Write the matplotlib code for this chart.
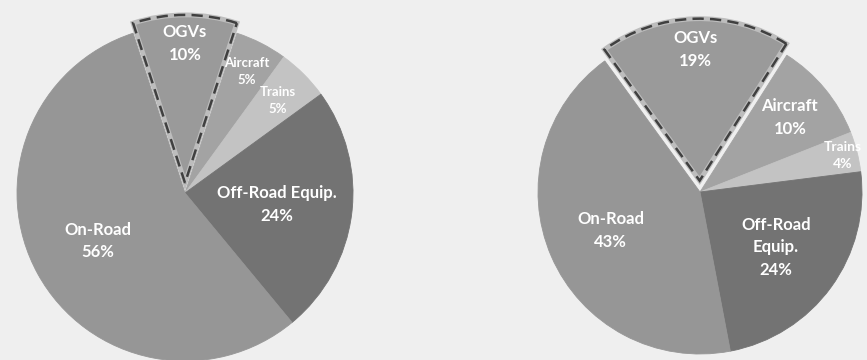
import matplotlib.pyplot as plt
import matplotlib.patches as mpatches
import numpy as np

# emission shares (%), clockwise starting with OGVs
categories = ['OGVs', 'Aircraft', 'Trains', 'Off-Road Equip.', 'On-Road']
left_values = [10, 5, 5, 24, 56]
right_values = [19, 10, 4, 24, 43]
right_labels = ['OGVs', 'Aircraft', 'Trains', 'Off-Road\nEquip.', 'On-Road']

colors = ['#9a9a9a', '#a3a3a3', '#c3c3c3', '#737373', '#969696']
bg = '#efefef'

W, H = 867, 360
fig = plt.figure(figsize=(W / 100, H / 100), dpi=100, facecolor=bg)


def make_axes(cx, cy, r, k=1.25):
    # cx, cy in pixels from top-left; r radius in pixels
    half = r * k
    ax = fig.add_axes([(cx - half) / W, (H - cy - half) / H, 2 * half / W, 2 * half / H])
    ax.set_xlim(-k, k)
    ax.set_ylim(-k, k)
    ax.set_aspect('equal')
    ax.axis('off')
    return ax


def draw_pie(ax, values, labels, startangle, explode_ogv, label_frac, sizes):
    explode = [explode_ogv] + [0] * (len(values) - 1)
    wedges, _ = ax.pie(values, colors=colors, startangle=startangle, counterclock=False,
                       explode=explode, radius=1,
                       wedgeprops=dict(linewidth=0.6, edgecolor=None))
    for w, c in zip(wedges, colors):
        w.set_edgecolor(c)
        w.set_clip_on(False)
    # highlighted OGV slice: light rim + dashed outline
    ogv = wedges[0]
    ogv.set_edgecolor('#bdbdbd')
    ogv.set_linewidth(3.5)
    ogv.set_zorder(3)
    dash = mpatches.Wedge(ogv.center, ogv.r, ogv.theta1, ogv.theta2, fill=False,
                          edgecolor='#404040', linewidth=1.8, linestyle=(0, (4.5, 2.5)),
                          zorder=4, clip_on=False)
    ax.add_patch(dash)
    for w, lab, v, f, s in zip(wedges, labels, values, label_frac, sizes):
        ang = np.deg2rad((w.theta1 + w.theta2) / 2)
        x = w.center[0] + f * np.cos(ang)
        y = w.center[1] + f * np.sin(ang)
        ax.text(x, y, '{}\n{}%'.format(lab, v), ha='center', va='center', color='white',
                fontsize=s, fontweight='bold', family=['Lato', 'DejaVu Sans'],
                linespacing=1.5, zorder=5)


ax1 = make_axes(185, 193, 168)
draw_pie(ax1, left_values, categories, 108, 0.06,
         [0.83, 0.81, 0.78, 0.55, 0.59], [12, 9.5, 9.5, 12, 12])

ax2 = make_axes(700, 192, 162)
draw_pie(ax2, right_values, right_labels, 126, 0.07,
         [0.81, 0.72, 0.91, 0.58, 0.6], [12, 12, 10, 12, 12])

fig.savefig('out.png', dpi=100, facecolor=bg)
